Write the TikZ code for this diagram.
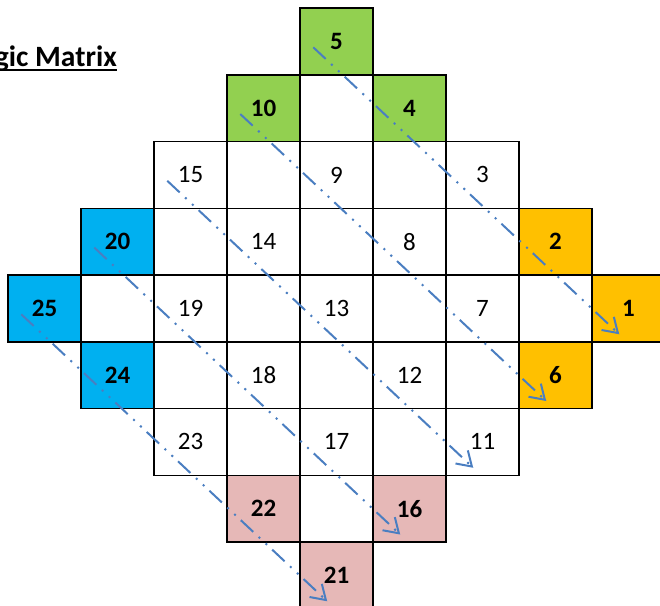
\documentclass[tikz,border=0pt]{standalone}
\usepackage{fontspec}
\setmainfont{Carlito}
\usetikzlibrary{arrows.meta}
\definecolor{cgreen}{RGB}{146,208,80}
\definecolor{cblue}{RGB}{0,176,240}
\definecolor{corange}{RGB}{255,192,0}
\definecolor{cpink}{RGB}{230,184,183}
\definecolor{carrow}{RGB}{74,126,193}
\newcommand\titleul[1]{\setbox0\hbox{#1}\rlap{\rule[-4.6pt]{\wd0}{2.4pt}}\box0}
\begin{document}
\begin{tikzpicture}[x=1pt,y=-1pt,
  cellbox/.style={draw=black, line width=1.5pt, minimum width=73pt, minimum height=66.75pt,
    inner sep=0pt, font=\fontsize{25}{30}\selectfont, anchor=center},
  wcell/.style={cellbox, fill=white},
  gcell/.style={cellbox, fill=cgreen, font=\fontsize{25}{30}\selectfont\bfseries},
  bcell/.style={cellbox, fill=cblue, font=\fontsize{25}{30}\selectfont\bfseries},
  ocell/.style={cellbox, fill=corange, font=\fontsize{25}{30}\selectfont\bfseries},
  pcell/.style={cellbox, fill=cpink, font=\fontsize{25}{30}\selectfont\bfseries},
  diag/.style={draw=carrow, line width=2pt,
    dash pattern=on 17pt off 7.5pt on 2pt off 7.5pt on 2pt off 7pt,
    -{Straight Barb[length=14pt,width=18pt]}}
]
\useasboundingbox (0,0) rectangle (660,605);
\clip (0,0) rectangle (660,605);
\node[anchor=base east, inner sep=0pt, font=\fontsize{29.5}{34}\selectfont\bfseries] (title) at (117,66.5) {\titleul{Magic Matrix}};
\foreach \r/\c/\t/\s in {
  0/4/5/gcell,
  1/3/10/gcell, 1/4//wcell, 1/5/4/gcell,
  2/2/15/wcell, 2/3//wcell, 2/4/9/wcell, 2/5//wcell, 2/6/3/wcell,
  3/1/20/bcell, 3/2//wcell, 3/3/14/wcell, 3/4//wcell, 3/5/8/wcell, 3/6//wcell, 3/7/2/ocell,
  4/0/25/bcell, 4/1//wcell, 4/2/19/wcell, 4/3//wcell, 4/4/13/wcell, 4/5//wcell, 4/6/7/wcell, 4/7//wcell, 4/8/1/ocell,
  5/1/24/bcell, 5/2//wcell, 5/3/18/wcell, 5/4//wcell, 5/5/12/wcell, 5/6//wcell, 5/7/6/ocell,
  6/2/23/wcell, 6/3//wcell, 6/4/17/wcell, 6/5//wcell, 6/6/11/wcell,
  7/3/22/pcell, 7/4//wcell, 7/5/16/pcell,
  8/4/21/pcell}
  \node[\s] (n\r\c) at ({44.5+73*\c},{41.4+66.75*\r}) {\t};
\foreach \a/\b in {n04/n48, n13/n57, n22/n66, n31/n75, n40/n84}
  \draw[diag] ([shift={(14,40)}]\a.north west) -- ([shift={(28,60)}]\b.north west);
\end{tikzpicture}
\end{document}
